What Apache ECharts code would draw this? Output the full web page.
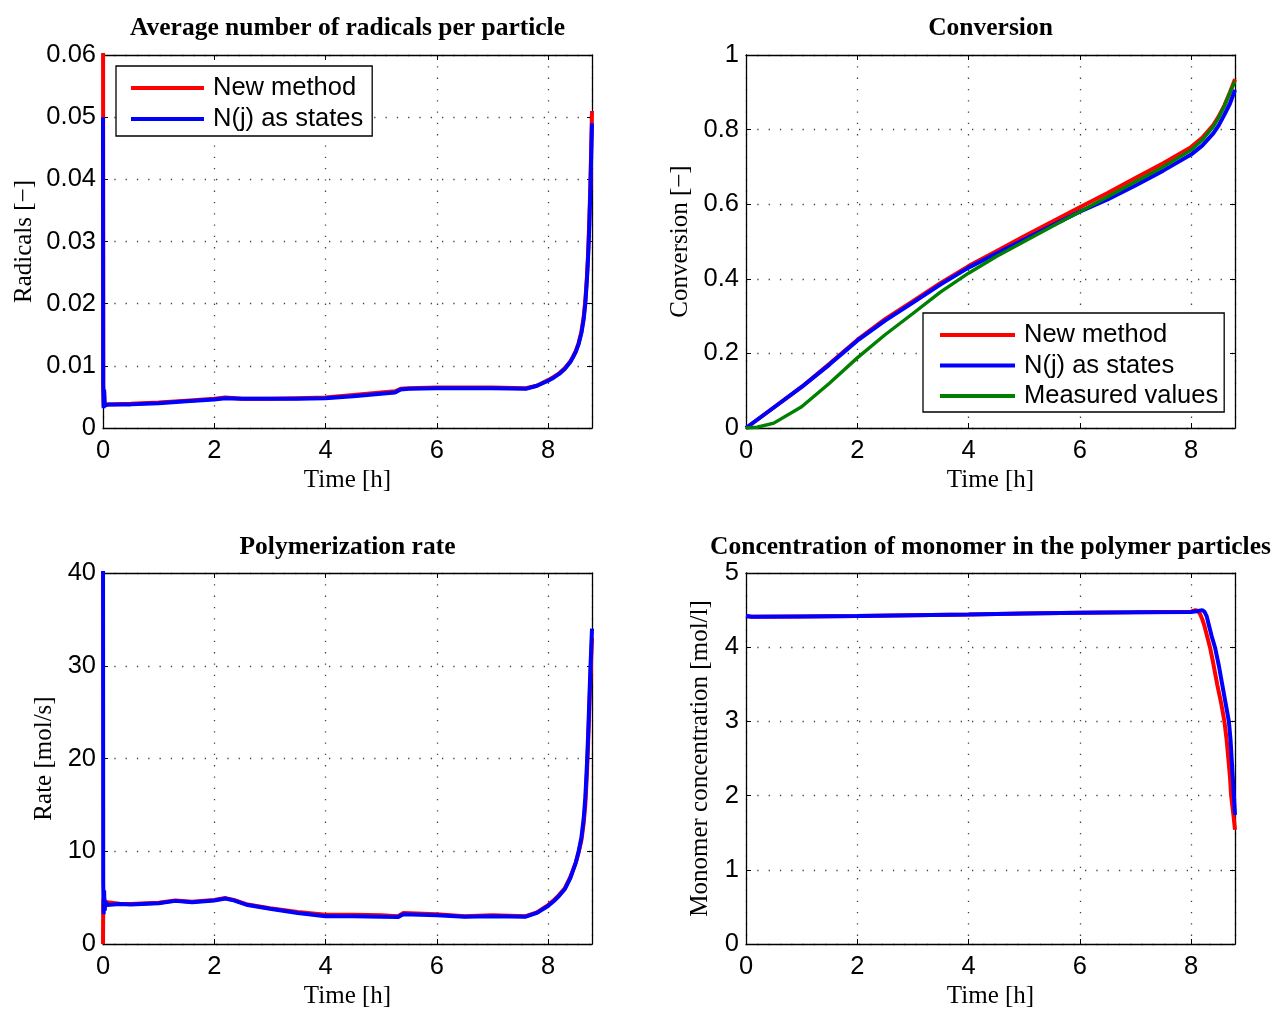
<!DOCTYPE html>
<html>
<head>
<meta charset="utf-8">
<script src="https://cdn.jsdelivr.net/npm/echarts@6/dist/echarts.min.js"></script>
<style>
html,body{margin:0;padding:0;background:#fff;}
#c{width:1272px;height:1010px;}
</style>
</head>
<body>
<div id="c"></div>
<script>
// ---------- data ----------
const XMAX = 8.79;
const xTicks = [0, 2, 4, 6, 8];

// Average number of radicals per particle
const radT = [0, 0.004, 0.012, 0.02, 0.03, 0.05, 0.1, 0.5, 1, 1.5, 2, 2.2, 2.5, 3, 3.5, 4, 4.5, 5, 5.25, 5.35, 5.5, 6, 6.5, 7,
  7.6, 7.8, 8, 8.1, 8.2, 8.3, 8.4, 8.45, 8.5, 8.55, 8.6, 8.64, 8.67, 8.7, 8.72, 8.74, 8.76, 8.79];
const radNew = [0.09, 0.0068, 0.0034, 0.0058, 0.0038, 0.0036, 0.0038, 0.0039, 0.0041, 0.0044, 0.0047, 0.0049, 0.0047, 0.0047, 0.0048, 0.0049, 0.0053, 0.0057, 0.0059, 0.0063, 0.0064, 0.0065, 0.0065, 0.0065,
  0.0064, 0.0068, 0.0077, 0.0082, 0.0088, 0.0096, 0.0107, 0.0115, 0.0124, 0.0137, 0.0155, 0.0178, 0.0205, 0.0245, 0.028, 0.033, 0.039, 0.051];
const radNj = [0.05, 0.0070, 0.0032, 0.0062, 0.0036, 0.0037, 0.0038, 0.0038, 0.0040, 0.0043, 0.0046, 0.0048, 0.0047, 0.0047, 0.0047, 0.0048, 0.0051, 0.0055, 0.0057, 0.0062, 0.0063, 0.0064, 0.0064, 0.0064,
  0.0063, 0.0068, 0.0076, 0.0081, 0.0087, 0.0095, 0.0106, 0.0114, 0.0123, 0.0135, 0.0153, 0.0175, 0.020, 0.024, 0.0275, 0.032, 0.038, 0.049];

// Conversion
const conT = [0, 0.5, 1, 1.5, 2, 2.5, 3, 3.5, 4, 4.5, 5, 5.5, 6, 6.5, 7, 7.5, 8, 8.2, 8.4, 8.5, 8.6, 8.7, 8.79];
const conNew = [0, 0.055, 0.11, 0.172, 0.236, 0.292, 0.34, 0.389, 0.434, 0.474, 0.514, 0.553, 0.592, 0.63, 0.67, 0.71, 0.753, 0.778, 0.812, 0.836, 0.865, 0.9, 0.935];
const conNj = [0, 0.055, 0.11, 0.17, 0.234, 0.288, 0.336, 0.385, 0.43, 0.468, 0.505, 0.543, 0.58, 0.613, 0.65, 0.69, 0.733, 0.757, 0.79, 0.812, 0.84, 0.87, 0.906];
const measT = [0, 0.2, 0.5, 1, 1.5, 2, 2.5, 3, 3.5, 4, 4.5, 5, 5.5, 6, 6.5, 7, 7.5, 8, 8.2, 8.4, 8.5, 8.6, 8.7, 8.79];
const measVal = [0, 0.002, 0.013, 0.057, 0.12, 0.188, 0.25, 0.307, 0.365, 0.415, 0.46, 0.5, 0.54, 0.58, 0.62, 0.66, 0.70, 0.745, 0.772, 0.808, 0.833, 0.864, 0.9, 0.93];

// Polymerization rate
const rateT = [0, 0.004, 0.012, 0.02, 0.03, 0.045, 0.07, 0.1, 0.3, 0.5, 1, 1.3, 1.6, 2, 2.2, 2.35, 2.6, 3, 3.5, 4, 4.5, 5, 5.3, 5.4, 6, 6.5, 7,
  7.6, 7.8, 8, 8.1, 8.2, 8.3, 8.4, 8.5, 8.55, 8.6, 8.64, 8.67, 8.7, 8.72, 8.74, 8.76, 8.79];
const rateNew = [0, 4.2, 5.0, 3.6, 4.8, 4.2, 4.5, 4.4, 4.35, 4.3, 4.45, 4.7, 4.55, 4.75, 4.95, 4.75, 4.25, 3.85, 3.45, 3.15, 3.15, 3.1, 3.0, 3.35, 3.2, 3.0, 3.1,
  3.0, 3.4, 4.2, 4.7, 5.3, 6.0, 7.2, 8.8, 9.9, 11.2, 13.0, 15.0, 18.5, 21.5, 25, 28.5, 33];
const rateNj = [45, 6.5, 3.2, 5.8, 3.6, 4.6, 4.2, 4.4, 4.3, 4.25, 4.4, 4.65, 4.5, 4.7, 4.9, 4.7, 4.2, 3.8, 3.35, 3.0, 3.0, 2.95, 2.9, 3.2, 3.1, 2.95, 3.0,
  2.95, 3.35, 4.1, 4.6, 5.2, 5.9, 7.1, 8.8, 10.0, 11.5, 13.5, 15.8, 19.5, 22.5, 26, 29.5, 34];

// Concentration of monomer in the polymer particles
const monTNew = [0, 0.1, 1, 2, 3, 4, 5, 6, 7, 8, 8.08, 8.12, 8.16, 8.2, 8.24, 8.27, 8.34, 8.4, 8.47, 8.54, 8.6, 8.64, 8.67, 8.7, 8.72, 8.76, 8.79];
const monNew = [4.42, 4.41, 4.415, 4.42, 4.43, 4.44, 4.455, 4.465, 4.47, 4.478, 4.50, 4.49, 4.45, 4.38, 4.29, 4.2, 4.0, 3.78, 3.5, 3.25, 3.0, 2.75, 2.5, 2.25, 2.0, 1.75, 1.54];
const monTNj = [0, 0.1, 1, 2, 3, 4, 5, 6, 7, 8, 8.1, 8.2, 8.24, 8.28, 8.32, 8.37, 8.43, 8.5, 8.56, 8.62, 8.68, 8.71, 8.73, 8.75, 8.77, 8.79];
const monNj = [4.42, 4.41, 4.415, 4.42, 4.43, 4.44, 4.455, 4.465, 4.47, 4.475, 4.485, 4.50, 4.48, 4.42, 4.3, 4.15, 4.0, 3.75, 3.5, 3.25, 3.0, 2.75, 2.5, 2.25, 2.0, 1.74];

const titles = ['Average number of radicals per particle', 'Conversion', 'Polymerization rate', 'Concentration of monomer in the polymer particles'];
const yNames = ['Radicals [\u2212]', 'Conversion [\u2212]', 'Rate [mol/s]', 'Monomer concentration [mol/l]'];
const xName = 'Time [h]';
const yMax = [0.06, 1, 40, 5];
const yStep = [0.01, 0.2, 10, 1];
const legendNames = ['New method', 'N(j) as states', 'Measured values'];

// ---------- styling / layout ----------
const SANS = '"Liberation Sans", Arial, Helvetica, sans-serif';
const SERIF = '"Liberation Serif", "Times New Roman", serif';
const RED = '#ff0000', BLUE = '#0000ff', GREEN = '#008000';
const FS = 25.5;
const grids = [
  {left: 103, top: 55, width: 489, height: 373},
  {left: 746, top: 55, width: 489, height: 373},
  {left: 103, top: 573, width: 489, height: 374},
  {left: 746, top: 573, width: 489, height: 374}
];
const yNameGap = [66, 53, 46, 33];
const titlePos = [[347.5, 15], [990.5, 15], [347.5, 534], [990.5, 534]];

const lineBox = {show: true, onZero: false, lineStyle: {color: '#000', width: 1.3}};
const tick = {show: true, inside: true, length: 5, lineStyle: {color: '#000', width: 1}};
const dotted = {show: true, lineStyle: {color: '#444', width: 1.3, type: [1.3, 10]}};

const xAxis = [], yAxis = [];
grids.forEach((g, i) => {
  xAxis.push({
    type: 'value', gridIndex: i, position: 'bottom', min: 0, max: XMAX, interval: 2,
    name: xName, nameLocation: 'middle', nameGap: 40,
    nameTextStyle: {fontFamily: SERIF, fontSize: 25, color: '#000'},
    axisLine: lineBox, axisTick: tick,
    axisLabel: {margin: 10, color: '#000', fontFamily: SANS, fontSize: FS,
      formatter: v => (xTicks.indexOf(Math.round(v * 1000) / 1000) >= 0 ? String(v) : '')},
    splitLine: dotted
  });
  xAxis.push({
    type: 'value', gridIndex: i, position: 'top', min: 0, max: XMAX, interval: 2,
    axisLine: lineBox, axisTick: tick, axisLabel: {show: false}, splitLine: {show: false}
  });
  yAxis.push({
    type: 'value', gridIndex: i, position: 'left', min: 0, max: yMax[i], interval: yStep[i],
    name: yNames[i], nameLocation: 'middle', nameRotate: 90, nameGap: yNameGap[i],
    nameTextStyle: {fontFamily: SERIF, fontSize: 25, color: '#000'},
    axisLine: lineBox, axisTick: tick,
    axisLabel: {margin: 7, color: '#000', fontFamily: SANS, fontSize: FS, padding: [4, 0, 0, 0]},
    splitLine: dotted
  });
  yAxis.push({
    type: 'value', gridIndex: i, position: 'right', min: 0, max: yMax[i], interval: yStep[i],
    axisLine: lineBox, axisTick: tick, axisLabel: {show: false}, splitLine: {show: false}
  });
});

function pairs(t, v) { return t.map((x, k) => [x, v[k]]); }
function line(name, gi, t, v, color, w) {
  return {
    type: 'line', name: name, xAxisIndex: gi * 2, yAxisIndex: gi * 2,
    data: pairs(t, v), showSymbol: false, symbol: 'none', clip: true,
    lineStyle: {color: color, width: w}, itemStyle: {color: color}, z: 3
  };
}

const series = [
  line(legendNames[0], 0, radT, radNew, RED, 4),
  line(legendNames[1], 0, radT, radNj, BLUE, 4),
  line(legendNames[0], 1, conT, conNew, RED, 4),
  line(legendNames[1], 1, conT, conNj, BLUE, 4),
  line(legendNames[2], 1, measT, measVal, GREEN, 3.4),
  line(legendNames[0], 2, rateT, rateNew, RED, 4),
  line(legendNames[1], 2, rateT, rateNj, BLUE, 4),
  line(legendNames[0], 3, monTNew, monNew, RED, 4),
  line(legendNames[1], 3, monTNj, monNj, BLUE, 4)
];

const legendCommon = {
  orient: 'vertical', icon: 'rect', itemHeight: 4,
  backgroundColor: '#fff', borderColor: '#000', borderWidth: 1.3,
  selectedMode: false,
  textStyle: {fontFamily: SANS, fontSize: FS, color: '#000', lineHeight: 26, padding: [0, 0, 0, 4]}
};

const option = {
  animation: false,
  backgroundColor: '#fff',
  title: titles.map((t, i) => ({
    text: t, left: titlePos[i][0], top: titlePos[i][1], textAlign: 'center', padding: 0,
    textStyle: {fontFamily: SERIF, fontWeight: 'bold', fontSize: 25.5, color: '#000'}
  })),
  grid: grids.map(g => Object.assign({containLabel: false}, g)),
  xAxis: xAxis,
  yAxis: yAxis,
  legend: [
    Object.assign({}, legendCommon, {data: legendNames.slice(0, 2), left: 116, top: 66,
      itemWidth: 73, itemGap: 5, padding: [9, 9, 4, 15]}),
    Object.assign({}, legendCommon, {data: legendNames.slice(0, 3), left: 923, top: 313,
      itemWidth: 75, itemGap: 4.5, padding: [9, 6, 3, 17]})
  ],
  series: series
};

const chart = echarts.init(document.getElementById('c'), null, {renderer: 'canvas'});
chart.setOption(option);
</script>
</body>
</html>
